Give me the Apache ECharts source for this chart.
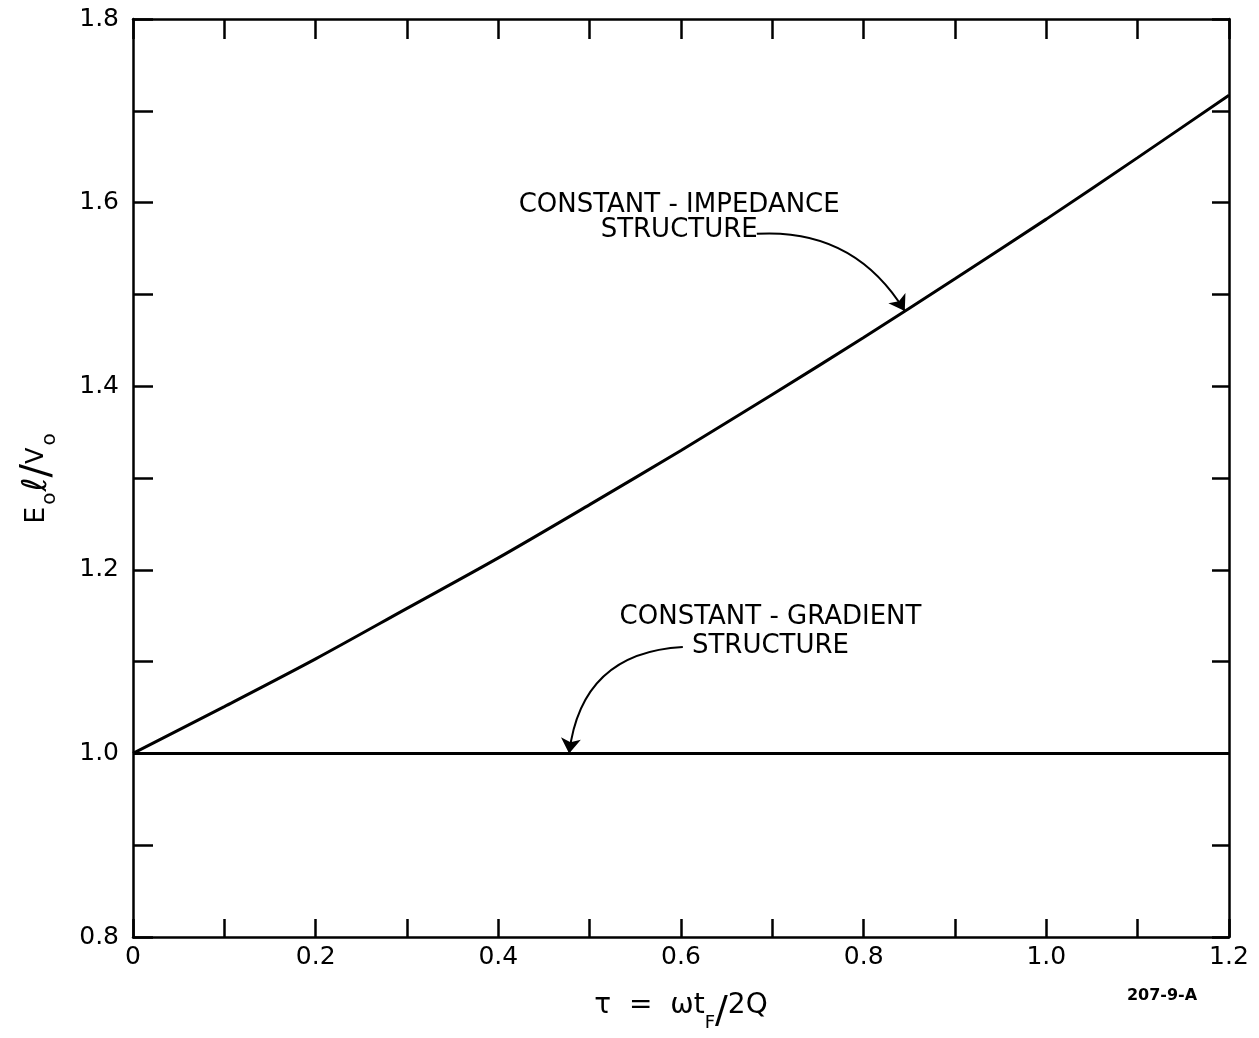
<!DOCTYPE html>
<html>
<head>
<meta charset="utf-8">
<script src="https://cdn.jsdelivr.net/npm/echarts@6/dist/echarts.min.js"></script>
<style>
  html, body { margin: 0; padding: 0; background: #ffffff; }
  #chart { width: 1259px; height: 1038px; }
</style>
</head>
<body>
<div id="chart"></div>
<script>
// τ = ω t_F / 2Q
const tau = [0, 0.1, 0.2, 0.3, 0.4, 0.5, 0.6, 0.7, 0.8, 0.9, 1.0, 1.1, 1.2];
// E0·ℓ / V0 for a constant-impedance structure
const constantImpedance = [1.000, 1.051, 1.103, 1.158, 1.213, 1.271, 1.330, 1.391, 1.453, 1.517, 1.582, 1.649, 1.717];
// E0·ℓ / V0 for a constant-gradient structure
const constantGradient = [1.00, 1.00, 1.00, 1.00, 1.00, 1.00, 1.00, 1.00, 1.00, 1.00, 1.00, 1.00, 1.00];
const xTickLabels = ['0', '0.2', '0.4', '0.6', '0.8', '1.0', '1.2'];
const yTickLabels = ['0.8', '1.0', '1.2', '1.4', '1.6', '1.8'];

const FONT = 'DejaVu Sans';
const INK = '#000000';

const chart = echarts.init(document.getElementById('chart'), null, { renderer: 'canvas' });

const axisLine = { show: true, onZero: false, lineStyle: { color: INK, width: 2.5 } };
const tickStyle = { color: INK, width: 2.5 };

function xLabel(v) {
  const k = Math.round(v * 10);
  return k % 2 === 0 ? xTickLabels[k / 2] : '';
}
function yLabel(v) {
  const k = Math.round(v * 10) - 8;
  return k % 2 === 0 ? yTickLabels[k / 2] : '';
}

const pairs = (ys) => tau.map((t, i) => [t, ys[i]]);

// curved pointer from a caption to its curve, in data space
function pointer(from, to, curveness) {
  return {
    type: 'lines', coordinateSystem: 'cartesian2d', xAxisIndex: 0, yAxisIndex: 0,
    silent: true, animation: false,
    symbol: ['none', 'arrow'], symbolSize: [0, 15],
    lineStyle: { color: INK, width: 2, opacity: 1, curveness },
    emphasis: { disabled: true },
    data: [{ coords: [from, to] }]
  };
}

chart.setOption({
  animation: false,
  backgroundColor: '#ffffff',
  grid: { left: 133, right: 30, top: 19, bottom: 101, outerBoundsMode: 'none' },
  xAxis: [
    {
      type: 'value', position: 'bottom', min: 0, max: 1.2, interval: 0.1,
      axisLine, splitLine: { show: false },
      axisTick: { inside: true, length: 18, lineStyle: tickStyle },
      axisLabel: { formatter: xLabel, fontSize: 25, color: INK, fontFamily: FONT, margin: 8 },
      name: '{t|τ  =  ωt}{s|F}{k|/}{t|2Q}',
      nameLocation: 'middle', nameGap: 50,
      nameTextStyle: {
        rich: {
          t: { fontSize: 28, fontFamily: FONT, color: INK, lineHeight: 30 },
          s: { fontSize: 18, fontFamily: FONT, color: INK, lineHeight: 18, padding: [34, 0, 0, 0] },
          k: { fontSize: 38, fontFamily: FONT, color: INK, lineHeight: 38, padding: [12, 0, 0, 0] }
        }
      }
    },
    {
      type: 'value', position: 'top', min: 0, max: 1.2, interval: 0.1,
      axisLine, splitLine: { show: false },
      axisTick: { inside: true, length: 20, lineStyle: tickStyle },
      axisLabel: { show: false }
    }
  ],
  yAxis: [
    {
      type: 'value', position: 'left', min: 0.8, max: 1.8, interval: 0.1,
      axisLine, splitLine: { show: false },
      axisTick: { inside: true, length: 20, lineStyle: tickStyle },
      axisLabel: { formatter: yLabel, fontSize: 25, color: INK, fontFamily: FONT, margin: 14 },
      name: '{e|E}{s|o}{l|ℓ}{k|/}{v|V}{s|o}',
      nameLocation: 'middle', nameRotate: 90, nameGap: 76,
      nameTextStyle: {
        rich: {
          e: { fontSize: 27, fontFamily: FONT, color: INK, lineHeight: 30 },
          l: { fontSize: 34, fontFamily: FONT, fontStyle: 'italic', color: INK, lineHeight: 34 },
          v: { fontSize: 24, fontFamily: FONT, color: INK, lineHeight: 26 },
          s: { fontSize: 20, fontFamily: FONT, color: INK, lineHeight: 20, padding: [26, 1, 0, 2] },
          k: { fontSize: 40, fontFamily: FONT, color: INK, lineHeight: 40, padding: [4, 0, 0, 0] }
        }
      }
    },
    {
      type: 'value', position: 'right', min: 0.8, max: 1.8, interval: 0.1,
      axisLine, splitLine: { show: false },
      axisTick: { inside: true, length: 17, lineStyle: tickStyle },
      axisLabel: { show: false }
    }
  ],
  series: [
    {
      name: 'CONSTANT-IMPEDANCE STRUCTURE',
      type: 'line', xAxisIndex: 0, yAxisIndex: 0,
      data: pairs(constantImpedance),
      smooth: 0.3, symbol: 'none',
      lineStyle: { color: INK, width: 3 },
      silent: true
    },
    {
      name: 'CONSTANT-GRADIENT STRUCTURE',
      type: 'line', xAxisIndex: 0, yAxisIndex: 0,
      data: pairs(constantGradient),
      symbol: 'none',
      lineStyle: { color: INK, width: 3 },
      silent: true
    },
    pointer([0.683, 1.566], [0.845, 1.482], 0.3),
    pointer([0.602, 1.116], [0.4775, 1.0], -0.42)
  ]
});

// Curve captions, anchored in data space
const toPx = (p) => chart.convertToPixel({ xAxisIndex: 0, yAxisIndex: 0 }, p);
const capImp = toPx([0.598, 1.5835]);
const capGrad = toPx([0.698, 1.133]);
const captionStyle = (text) => ({
  text, fill: INK, font: '26px "' + FONT + '"',
  align: 'center', verticalAlign: 'middle', lineHeight: 25
});

chart.setOption({
  graphic: [
    { type: 'text', x: capImp[0], y: capImp[1], silent: true,
      style: captionStyle('CONSTANT - IMPEDANCE\nSTRUCTURE') },
    { type: 'text', x: capGrad[0], y: capGrad[1], silent: true,
      style: Object.assign(captionStyle('CONSTANT - GRADIENT\nSTRUCTURE'), { lineHeight: 29 }) },
    { type: 'text', x: 1162, y: 996, silent: true,
      style: { text: '207-9-A', fill: INK, font: 'bold 16px "' + FONT + '"', align: 'center', verticalAlign: 'middle' } }
  ]
});
</script>
</body>
</html>
